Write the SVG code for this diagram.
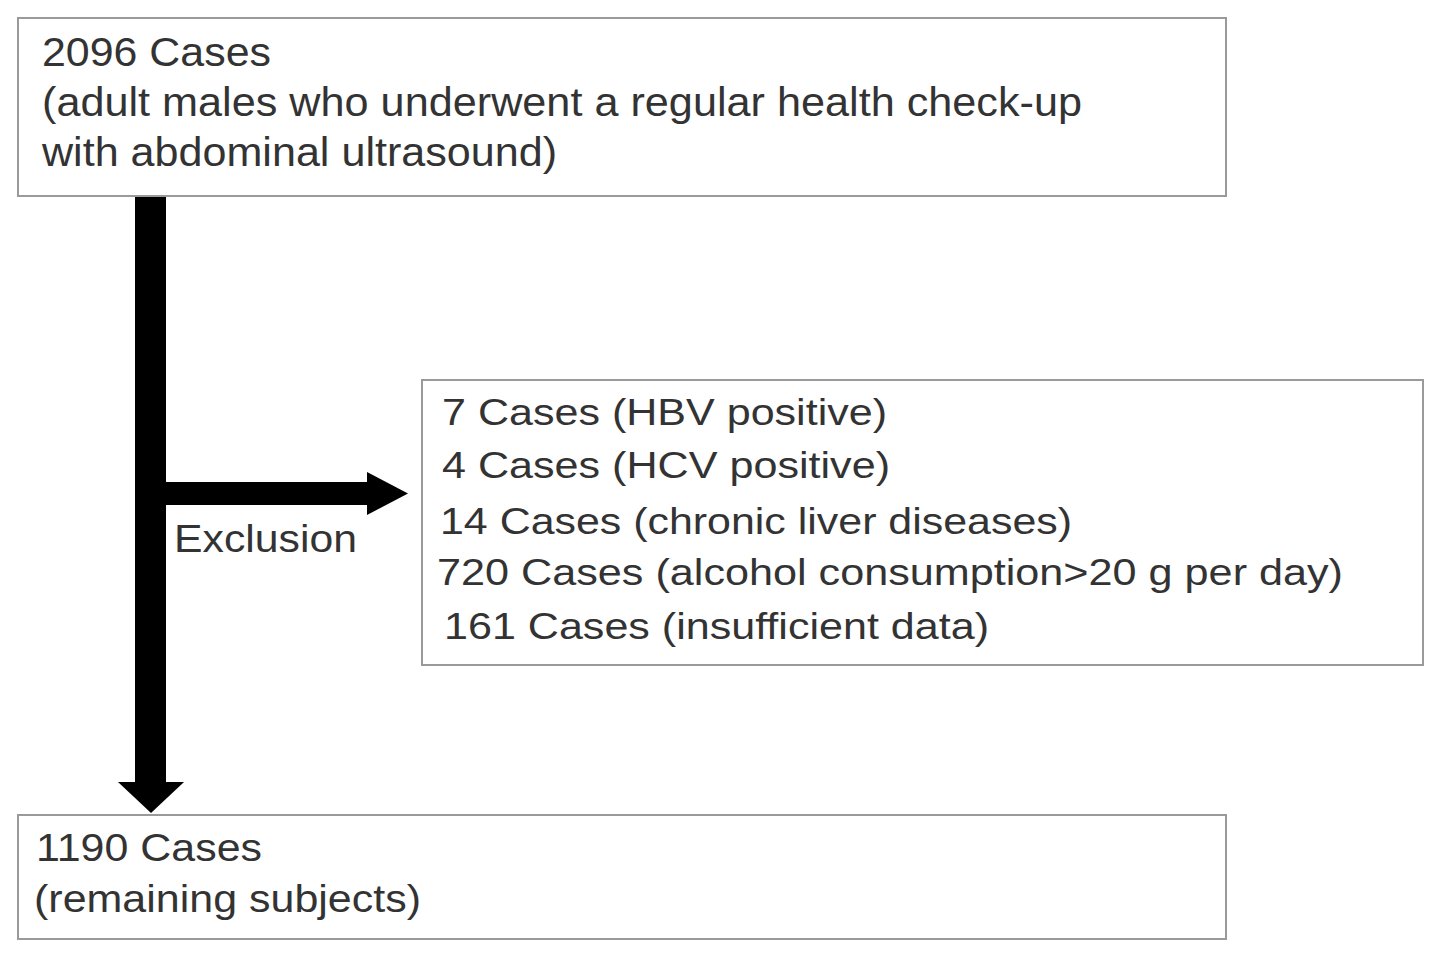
<svg xmlns="http://www.w3.org/2000/svg" width="1441" height="959" viewBox="0 0 1441 959">
<style>
.box{fill:#fff;stroke:#9a9a9a;stroke-width:2}
.t{font-family:"Liberation Sans",Arial,Helvetica,sans-serif;fill:#333;}
.arr{fill:#000}
</style>
<rect width="1441" height="959" fill="#fff"/>
<g id="connectors">
<rect class="arr" x="135" y="196" width="31" height="587"/>
<polygon class="arr" points="118,782 184,782 151,813"/>
<rect class="arr" x="165" y="482" width="203" height="23"/>
<polygon class="arr" points="367,472 408,493.5 367,515"/>
<text class="t" x="174" y="552" font-size="38" textLength="183" lengthAdjust="spacingAndGlyphs">Exclusion</text>
</g>
<g id="node-start">
<rect class="box" x="18" y="18" width="1208" height="178"/>
<text class="t" x="42" y="66" font-size="40" textLength="229" lengthAdjust="spacingAndGlyphs">2096 Cases</text>
<text class="t" x="42" y="116" font-size="40" textLength="1040" lengthAdjust="spacingAndGlyphs">(adult males who underwent a regular health check-up</text>
<text class="t" x="42" y="166" font-size="40" textLength="515" lengthAdjust="spacingAndGlyphs">with abdominal ultrasound)</text>
</g>
<g id="node-exclusion">
<rect class="box" x="422" y="380" width="1001" height="285"/>
<text class="t" x="442" y="425" font-size="37" textLength="445" lengthAdjust="spacingAndGlyphs">7 Cases (HBV positive)</text>
<text class="t" x="442" y="478" font-size="37" textLength="448" lengthAdjust="spacingAndGlyphs">4 Cases (HCV positive)</text>
<text class="t" x="440" y="534" font-size="37" textLength="632" lengthAdjust="spacingAndGlyphs">14 Cases (chronic liver diseases)</text>
<text class="t" x="437" y="585" font-size="37" textLength="906" lengthAdjust="spacingAndGlyphs">720 Cases (alcohol consumption&gt;20 g per day)</text>
<text class="t" x="444" y="639" font-size="37" textLength="545" lengthAdjust="spacingAndGlyphs">161 Cases (insufficient data)</text>
</g>
<g id="node-remaining">
<rect class="box" x="18" y="815" width="1208" height="124"/>
<text class="t" x="36" y="861" font-size="38" textLength="226" lengthAdjust="spacingAndGlyphs">1190 Cases</text>
<text class="t" x="34" y="912" font-size="38" textLength="387" lengthAdjust="spacingAndGlyphs">(remaining subjects)</text>
</g>
</svg>
